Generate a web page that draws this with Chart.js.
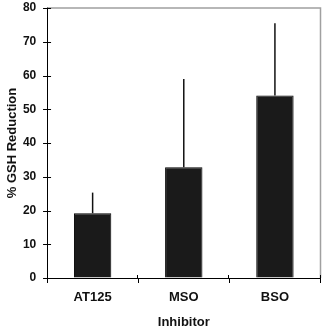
<!DOCTYPE html>
<html>
<head>
<meta charset="utf-8">
<script src="https://cdn.jsdelivr.net/npm/chart.js@4"></script>
<style>
  html, body { margin: 0; padding: 0; background: #fff; }
  #wrap { width: 322px; height: 330px; }
</style>
</head>
<body>
<div id="wrap"><canvas id="chart"></canvas></div>
<script>
const categories = ['AT125', 'MSO', 'BSO'];
const reduction = [19.2, 32.8, 54.1];
const errorUpper = [25.3, 59.0, 75.5];
const yTicks = [0, 10, 20, 30, 40, 50, 60, 70, 80];

// draws the upper error whiskers (no caps)
const errorBars = {
    id: 'errorBars',
    afterDatasetsDraw(chart) {
        const ctx = chart.ctx;
        const meta = chart.getDatasetMeta(0);
        const y = chart.scales.y;
        ctx.save();
        ctx.strokeStyle = '#111';
        ctx.lineWidth = 1.5;
        meta.data.forEach((bar, i) => {
            ctx.beginPath();
            ctx.moveTo(bar.x, bar.y);
            ctx.lineTo(bar.x, y.getPixelForValue(errorUpper[i]));
            ctx.stroke();
        });
        ctx.restore();
    }
};

// grey frame on the top and right of the plot area + tick marks crossing the axes
const frame = {
    id: 'frame',
    beforeDatasetsDraw(chart) {
        const a = chart.chartArea;
        const ctx = chart.ctx;
        ctx.save();
        ctx.strokeStyle = '#a0a0a0';
        ctx.lineWidth = 1.5;
        ctx.beginPath();
        ctx.moveTo(a.left, a.top);
        ctx.lineTo(a.right, a.top);
        ctx.lineTo(a.right, a.bottom);
        ctx.stroke();

        ctx.strokeStyle = '#000';
        ctx.lineWidth = 1;
        const y = chart.scales.y;
        y.ticks.forEach((t, i) => {
            const py = Math.round(y.getPixelForTick(i)) + 0.5;
            ctx.beginPath();
            ctx.moveTo(a.left - 4, py);
            ctx.lineTo(a.left + 4, py);
            ctx.stroke();
        });
        for (let i = 1; i <= categories.length; i++) {
            const px = Math.round(a.left + (a.right - a.left) * i / categories.length) - 0.5;
            ctx.beginPath();
            ctx.moveTo(px, a.bottom);
            ctx.lineTo(px, a.bottom - 3);
            ctx.stroke();
        }
        ctx.restore();
    }
};

const xFont = { family: 'Liberation Sans, Arial, sans-serif', size: 13, weight: 'bold' };
const yFont = { family: 'Liberation Sans, Arial, sans-serif', size: 12, weight: 'bold' };

new Chart(document.getElementById('chart'), {
    type: 'bar',
    data: {
        labels: categories,
        datasets: [{
            data: reduction,
            backgroundColor: '#1a1a1a',
            borderColor: '#000',
            borderWidth: 1,
            barPercentage: 0.41,
            categoryPercentage: 1
        }]
    },
    options: {
        responsive: true,
        maintainAspectRatio: false,
        animation: false,
        layout: { padding: { top: 1, right: 1.5, left: 5, bottom: 0 } },
        plugins: {
            legend: { display: false },
            tooltip: { enabled: false }
        },
        scales: {
            x: {
                grid: {
                    offset: true,
                    drawOnChartArea: false,
                    drawTicks: true,
                    tickLength: 5,
                    color: '#000'
                },
                border: { color: '#000', width: 1 },
                ticks: { color: '#111', font: xFont, padding: 7 },
                title: { display: true, text: 'Inhibitor', color: '#111', font: xFont, padding: { top: 1.8, bottom: 0 } }
            },
            y: {
                min: 0,
                max: 80,
                afterBuildTicks: axis => { axis.ticks = yTicks.map(v => ({ value: v })); },
                grid: {
                    drawOnChartArea: false,
                    drawTicks: true,
                    tickLength: 10,
                    tickColor: 'transparent',
                    color: '#000'
                },
                border: { color: '#000', width: 1 },
                ticks: { color: '#111', font: yFont, padding: 0.8 },
                title: { display: true, text: '% GSH Reduction', color: '#111', font: xFont, padding: { top: 0, bottom: 1.5 } }
            }
        }
    },
    plugins: [frame, errorBars]
});
</script>
</body>
</html>
